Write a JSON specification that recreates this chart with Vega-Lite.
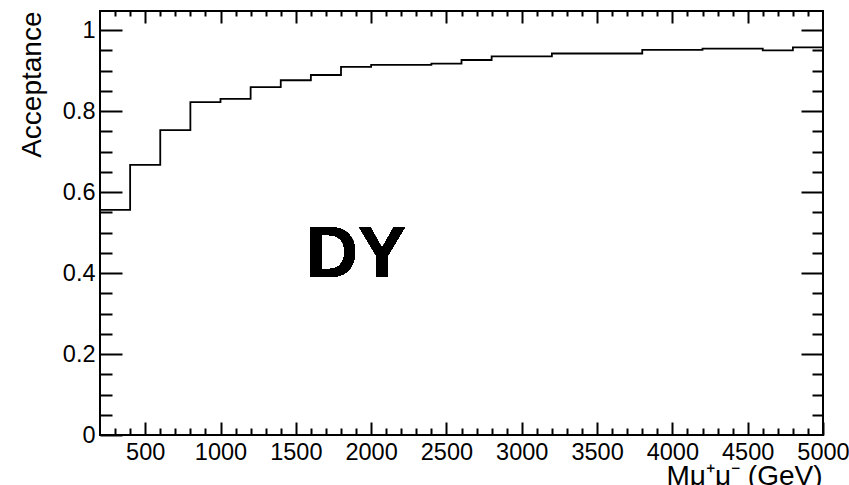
{
  "$schema": "https://vega.github.io/schema/vega-lite/v6.json",
  "width": 723,
  "height": 424,
  "autosize": {"type": "none"},
  "padding": {"left": 100, "top": 11, "right": 26, "bottom": 50},
  "background": "#ffffff",
  "config": {
    "font": "Liberation Sans",
    "view": {"stroke": "#000000", "strokeWidth": 2},
    "axis": {
      "grid": false,
      "domain": false,
      "tickColor": "#000000",
      "tickWidth": 2,
      "labelColor": "#000000",
      "labelFont": "Liberation Sans",
      "labelFontSize": 23.5,
      "labelFlush": false,
      "labelOverlap": false,
      "titleFont": "Liberation Sans",
      "titleFontWeight": "normal",
      "titleColor": "#000000",
      "titleFontSize": 28
    }
  },
  "data": {
    "values": [
      {"lo": 200, "hi": 400, "acc": 0.556},
      {"lo": 400, "hi": 600, "acc": 0.667},
      {"lo": 600, "hi": 800, "acc": 0.753},
      {"lo": 800, "hi": 1000, "acc": 0.822},
      {"lo": 1000, "hi": 1200, "acc": 0.830},
      {"lo": 1200, "hi": 1400, "acc": 0.859},
      {"lo": 1400, "hi": 1600, "acc": 0.876},
      {"lo": 1600, "hi": 1800, "acc": 0.889},
      {"lo": 1800, "hi": 2000, "acc": 0.909},
      {"lo": 2000, "hi": 2200, "acc": 0.914},
      {"lo": 2200, "hi": 2400, "acc": 0.914},
      {"lo": 2400, "hi": 2600, "acc": 0.917},
      {"lo": 2600, "hi": 2800, "acc": 0.926},
      {"lo": 2800, "hi": 3000, "acc": 0.935},
      {"lo": 3000, "hi": 3200, "acc": 0.935},
      {"lo": 3200, "hi": 3400, "acc": 0.942},
      {"lo": 3400, "hi": 3600, "acc": 0.942},
      {"lo": 3600, "hi": 3800, "acc": 0.942},
      {"lo": 3800, "hi": 4000, "acc": 0.951},
      {"lo": 4000, "hi": 4200, "acc": 0.951},
      {"lo": 4200, "hi": 4400, "acc": 0.954},
      {"lo": 4400, "hi": 4600, "acc": 0.954},
      {"lo": 4600, "hi": 4800, "acc": 0.950},
      {"lo": 4800, "hi": 5000, "acc": 0.957}
    ]
  },
  "transform": [
    {"fold": ["lo", "hi"], "as": ["edge", "m"]}
  ],
  "layer": [
    {
      "mark": {"type": "line", "color": "#000000", "strokeWidth": 1.8, "clip": true},
      "encoding": {
        "x": {
          "field": "m", "type": "quantitative",
          "scale": {"domain": [200, 5000], "nice": false, "zero": false},
          "axis": {
            "orient": "bottom",
            "values": [500, 1000, 1500, 2000, 2500, 3000, 3500, 4000, 4500, 5000],
            "format": "d",
            "tickSize": -13,
            "labelPadding": 18,
            "title": "Mμ⁺μ⁻ (GeV)",
            "titleAnchor": "end",
            "titleAlign": "right",
            "titleBaseline": "alphabetic",
            "titleX": 722,
            "titleY": 49
          }
        },
        "y": {
          "field": "acc", "type": "quantitative",
          "scale": {"domain": [0, 1.047], "nice": false, "zero": false},
          "axis": {
            "orient": "left",
            "values": [0, 0.2, 0.4, 0.6, 0.8, 1],
            "format": "~g",
            "tickSize": -22,
            "labelPadding": 27,
            "title": "Acceptance",
            "titleAngle": 270,
            "titleAnchor": "end",
            "titleAlign": "right",
            "titleBaseline": "alphabetic",
            "titleX": -60,
            "titleY": 0
          }
        },
        "order": [
          {"field": "m", "type": "quantitative"},
          {"field": "edge", "type": "nominal"}
        ]
      }
    },
    {
      "mark": {"type": "line", "strokeOpacity": 0},
      "encoding": {
        "x": {
          "field": "m", "type": "quantitative",
          "scale": {"domain": [200, 5000], "nice": false, "zero": false},
          "axis": {
            "orient": "bottom",
            "values": [300, 400, 600, 700, 800, 900, 1100, 1200, 1300, 1400, 1600, 1700, 1800, 1900, 2100, 2200, 2300, 2400, 2600, 2700, 2800, 2900, 3100, 3200, 3300, 3400, 3600, 3700, 3800, 3900, 4100, 4200, 4300, 4400, 4600, 4700, 4800, 4900],
            "tickSize": -7,
            "labels": false,
            "title": null
          }
        },
        "y": {
          "field": "acc", "type": "quantitative",
          "scale": {"domain": [0, 1.047], "nice": false, "zero": false},
          "axis": {
            "orient": "left",
            "values": [0.05, 0.1, 0.15, 0.25, 0.3, 0.35, 0.45, 0.5, 0.55, 0.65, 0.7, 0.75, 0.85, 0.9, 0.95],
            "tickSize": -12,
            "labels": false,
            "title": null
          }
        }
      }
    },
    {
      "mark": {"type": "line", "strokeOpacity": 0},
      "encoding": {
        "x": {
          "field": "m", "type": "quantitative",
          "scale": {"domain": [200, 5000], "nice": false, "zero": false},
          "axis": {
            "orient": "top",
            "values": [500, 1000, 1500, 2000, 2500, 3000, 3500, 4000, 4500],
            "tickSize": -12,
            "labels": false,
            "title": null
          }
        },
        "y": {
          "field": "acc", "type": "quantitative",
          "scale": {"domain": [0, 1.047], "nice": false, "zero": false},
          "axis": {
            "orient": "right",
            "values": [0.2, 0.4, 0.6, 0.8, 1],
            "tickSize": -22,
            "labels": false,
            "title": null
          }
        }
      }
    },
    {
      "mark": {"type": "line", "strokeOpacity": 0},
      "encoding": {
        "x": {
          "field": "m", "type": "quantitative",
          "scale": {"domain": [200, 5000], "nice": false, "zero": false},
          "axis": {
            "orient": "top",
            "values": [300, 400, 600, 700, 800, 900, 1100, 1200, 1300, 1400, 1600, 1700, 1800, 1900, 2100, 2200, 2300, 2400, 2600, 2700, 2800, 2900, 3100, 3200, 3300, 3400, 3600, 3700, 3800, 3900, 4100, 4200, 4300, 4400, 4600, 4700, 4800, 4900],
            "tickSize": -5,
            "labels": false,
            "title": null
          }
        },
        "y": {
          "field": "acc", "type": "quantitative",
          "scale": {"domain": [0, 1.047], "nice": false, "zero": false},
          "axis": {
            "orient": "right",
            "values": [0.05, 0.1, 0.15, 0.25, 0.3, 0.35, 0.45, 0.5, 0.55, 0.65, 0.7, 0.75, 0.85, 0.9, 0.95],
            "tickSize": -11,
            "labels": false,
            "title": null
          }
        }
      }
    },
    {
      "mark": {
        "type": "text",
        "text": "DY",
        "font": "Liberation Sans",
        "fontWeight": "bold",
        "fontSize": 72,
        "color": "#000000",
        "align": "center",
        "baseline": "alphabetic"
      },
      "encoding": {
        "x": {"datum": 1900, "type": "quantitative", "axis": null},
        "y": {"datum": 0.39, "type": "quantitative", "axis": null}
      }
    }
  ],
  "resolve": {"axis": {"x": "independent", "y": "independent"}}
}
